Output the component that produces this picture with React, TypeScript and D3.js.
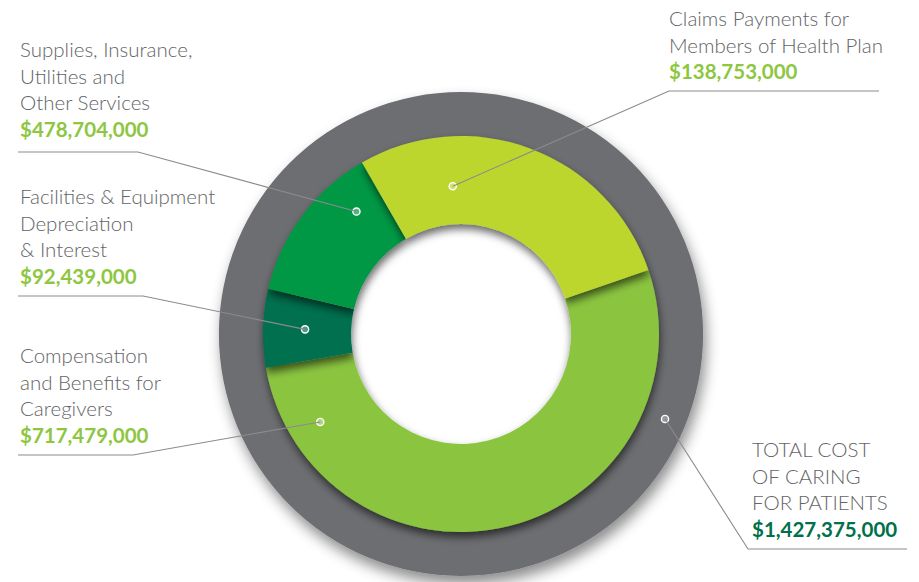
import React from "react";
import * as d3 from "d3";

// ---- data ----
const categories = [
  "Claims Payments for Members of Health Plan",
  "Compensation and Benefits for Caregivers",
  "Facilities & Equipment Depreciation & Interest",
  "Supplies, Insurance, Utilities and Other Services",
];
const amounts = [138753000, 717479000, 92439000, 478704000];
// share of the ring each slice occupies, as drawn in the picture (percent)
const ringShares = [28.1, 52.5, 6.4, 13.0];
const labelLines = [
  ["Claims Payments for", "Members of Health Plan"],
  ["Compensation", "and Benefits for", "Caregivers"],
  ["Facilities & Equipment", "Depreciation", "& Interest"],
  ["Supplies, Insurance,", "Utilities and", "Other Services"],
];
const totalLines = ["TOTAL COST", "OF CARING", "FOR PATIENTS"];
const totalAmount = 1427375000;

// ---- style / layout ----
const colors = ["#BDD62F", "#8BC53F", "#00704F", "#009845"];
const drawOrder = [1, 2, 3, 0];
const W = 919, H = 582;
const cx = 461, cy = 334;
const rGray = 242, rGrayIn = 175, rOuter = 198, rInner = 110;
const textGray = "#636466";
const lineGray = "#8A8B8D";
const amountGreen = "#8DC63F";
const totalGreen = "#00704A";
const fontFamily = "Lato, 'Open Sans', sans-serif";
const fs = 20.5, lh = 26.5;

const layout = [
  { a: 356.8, r: 148, tx: 669, ty: 26, elbow: [669, 91], end: [879, 91] },
  { a: 238, r: 166, tx: 20, ty: 363, elbow: [133, 455], end: [18, 455] },
  { a: 271.7, r: 156, tx: 20, ty: 204, elbow: [143, 296], end: [18, 296] },
  { a: 319.5, r: 161, tx: 20, ty: 57, elbow: [138, 152], end: [18, 152] },
];
const totalLayout = { a: 112.6, r: 221, tx: 752, ty: 457, elbow: [748, 549], end: [907, 549] };

const fmt = d3.format("$,");
const toRad = (d: number) => (d * Math.PI) / 180;
const polar = (a: number, r: number): [number, number] => [
  cx + r * Math.sin(toRad(a)),
  cy - r * Math.cos(toRad(a)),
];

export default function App() {
  const pie = d3
    .pie<number>()
    .sort(null)
    .value((d) => d)
    .startAngle(toRad(-30))
    .endAngle(toRad(330));
  const arcs = pie(ringShares);
  const arc = d3.arc<d3.PieArcDatum<number>>().innerRadius(rInner).outerRadius(rOuter);
  const grayArc = d3.arc<any>()({ innerRadius: rGrayIn, outerRadius: rGray, startAngle: 0, endAngle: Math.PI * 2 } as any) as string;
  const line = d3.line();

  const renderLabel = (
    lines: string[],
    amount: number,
    L: any,
    amtColor: string,
    amtSize: number,
    key: string
  ) => {
    const p = polar(L.a, L.r);
    return (
      <g key={key}>
        <text x={L.tx} y={L.ty} fontFamily={fontFamily} fontSize={fs} fontWeight={300} fill={textGray}>
          {lines.map((t, i) => (
            <tspan key={i} x={L.tx} y={L.ty + i * lh}>
              {t}
            </tspan>
          ))}
          <tspan x={L.tx} y={L.ty + lines.length * lh} fontWeight={700} fontSize={amtSize} fill={amtColor}>
            {fmt(amount)}
          </tspan>
        </text>
        <circle cx={p[0]} cy={p[1]} r={3.6} fill="rgba(255,255,255,0.3)" stroke="#fff" strokeWidth={1.4} />
        <path
          d={line([L.end, L.elbow, p] as any) as string}
          fill="none"
          stroke={lineGray}
          strokeWidth={1.1}
        />
      </g>
    );
  };

  return (
    <svg width={W} height={H} style={{ position: "absolute", left: 0, top: 0, background: "#fff" }}>
      <defs>
        <filter id="ringShadow" filterUnits="userSpaceOnUse" x={-600} y={-600} width={1200} height={1200}>
          <feDropShadow dx={3} dy={8} stdDeviation={7} floodColor="#000" floodOpacity={0.45} />
        </filter>
        <filter id="sliceShadow" filterUnits="userSpaceOnUse" x={-600} y={-600} width={1200} height={1200}>
          <feDropShadow dx={1} dy={5} stdDeviation={4.5} floodColor="#000" floodOpacity={0.6} />
        </filter>
      </defs>
      <g transform={`translate(${cx},${cy})`}>
        <path d={grayArc} fill="#6D6E71" filter="url(#ringShadow)" />
        {drawOrder.map((i) => (
          <path key={i} d={arc(arcs[i]) as string} fill={colors[i]} filter="url(#sliceShadow)">
            <title>{categories[i]}</title>
          </path>
        ))}
      </g>
      {layout.map((L, i) => renderLabel(labelLines[i], amounts[i], L, amountGreen, 20.5, "l" + i))}
      {renderLabel(totalLines, totalAmount, totalLayout, totalGreen, 20.5, "total")}
    </svg>
  );
}
